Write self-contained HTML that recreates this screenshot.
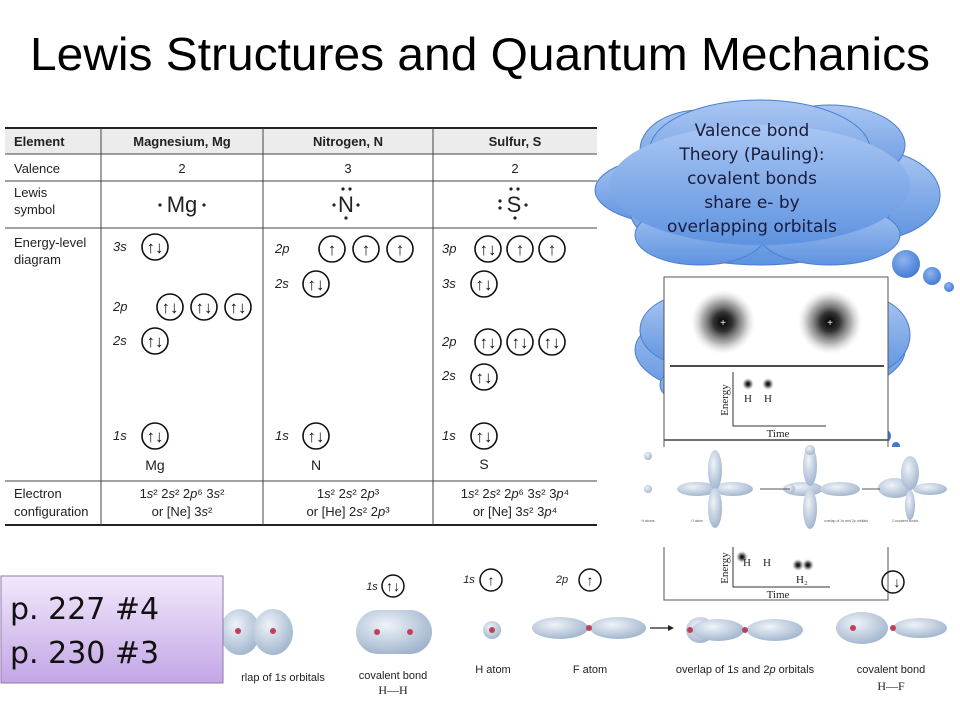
<!DOCTYPE html>
<html><head><meta charset="utf-8"><style>
html,body{margin:0;padding:0;background:#fff;}
svg{display:block;font-family:"Liberation Sans",sans-serif;}
</style></head><body>
<svg width="960" height="720" viewBox="0 0 960 720" xmlns="http://www.w3.org/2000/svg">
<defs>
<linearGradient id="cl" x1="0" y1="0" x2="0" y2="1"><stop offset="0" stop-color="#a9c6f2"/><stop offset="1" stop-color="#5f93e0"/></linearGradient>
<linearGradient id="pu" x1="0" y1="0" x2="0" y2="1"><stop offset="0" stop-color="#f1e8fb"/><stop offset="1" stop-color="#c3a6e6"/></linearGradient>
<radialGradient id="lob" cx="0.4" cy="0.35" r="0.7"><stop offset="0" stop-color="#eef3f9"/><stop offset="1" stop-color="#9fb3cc"/></radialGradient>
<radialGradient id="dot" cx="0.5" cy="0.5" r="0.5"><stop offset="0" stop-color="#000"/><stop offset="0.3" stop-color="#333"/><stop offset="0.65" stop-color="#888" stop-opacity="0.7"/><stop offset="1" stop-color="#ccc" stop-opacity="0"/></radialGradient>
<radialGradient id="bub" cx="0.4" cy="0.35" r="0.7"><stop offset="0" stop-color="#8fb4ee"/><stop offset="1" stop-color="#3f78d4"/></radialGradient>
</defs>
<text x="480" y="70" font-family="Liberation Sans" font-size="46" text-anchor="middle" textLength="900" lengthAdjust="spacingAndGlyphs">Lewis Structures and Quantum Mechanics</text>

<!-- table -->
<rect x="5" y="128" width="592" height="26" fill="#ececec"/>
<g stroke="#222" stroke-width="2"><line x1="5" y1="128" x2="597" y2="128"/><line x1="5" y1="525" x2="597" y2="525"/></g>
<g stroke="#444" stroke-width="1"><line x1="5" y1="154" x2="597" y2="154"/><line x1="5" y1="181" x2="597" y2="181"/><line x1="5" y1="228" x2="597" y2="228"/><line x1="5" y1="481" x2="597" y2="481"/>
<line x1="101" y1="128" x2="101" y2="525"/><line x1="263" y1="128" x2="263" y2="525"/><line x1="433" y1="128" x2="433" y2="525"/></g>
<g font-size="13" fill="#222">
<text x="14" y="146" font-weight="bold">Element</text>
<text x="182" y="146" font-weight="bold" text-anchor="middle">Magnesium, Mg</text>
<text x="348" y="146" font-weight="bold" text-anchor="middle">Nitrogen, N</text>
<text x="515" y="146" font-weight="bold" text-anchor="middle">Sulfur, S</text>
<text x="14" y="173">Valence</text>
<text x="182" y="173" text-anchor="middle">2</text><text x="348" y="173" text-anchor="middle">3</text><text x="515" y="173" text-anchor="middle">2</text>
<text x="14" y="197">Lewis</text><text x="14" y="214">symbol</text>
<text x="14" y="247">Energy-level</text><text x="14" y="264">diagram</text>
<text x="14" y="498">Electron</text><text x="14" y="516">configuration</text>
<text x="182" y="498" text-anchor="middle">1<tspan font-style="italic">s</tspan>² 2<tspan font-style="italic">s</tspan>² 2<tspan font-style="italic">p</tspan>⁶ 3<tspan font-style="italic">s</tspan>²</text>
<text x="182" y="516" text-anchor="middle">or [Ne] 3<tspan font-style="italic">s</tspan>²</text>
<text x="348" y="498" text-anchor="middle">1<tspan font-style="italic">s</tspan>² 2<tspan font-style="italic">s</tspan>² 2<tspan font-style="italic">p</tspan>³</text>
<text x="348" y="516" text-anchor="middle">or [He] 2<tspan font-style="italic">s</tspan>² 2<tspan font-style="italic">p</tspan>³</text>
<text x="515" y="498" text-anchor="middle">1<tspan font-style="italic">s</tspan>² 2<tspan font-style="italic">s</tspan>² 2<tspan font-style="italic">p</tspan>⁶ 3<tspan font-style="italic">s</tspan>² 3<tspan font-style="italic">p</tspan>⁴</text>
<text x="515" y="516" text-anchor="middle">or [Ne] 3<tspan font-style="italic">s</tspan>² 3<tspan font-style="italic">p</tspan>⁴</text>
</g>
<g font-size="22" fill="#222" text-anchor="middle">
<text x="182" y="212">Mg</text>
<text x="346" y="212">N</text>
<text x="514" y="212">S</text>
</g>
<g fill="#222"><circle cx="160" cy="205" r="1.6"/><circle cx="204" cy="205" r="1.6"/>
<circle cx="334" cy="205" r="1.6"/><circle cx="358" cy="205" r="1.6"/><circle cx="343" cy="189" r="1.6"/><circle cx="350" cy="189" r="1.6"/><circle cx="346" cy="218" r="1.6"/>
<circle cx="500" cy="201" r="1.6"/><circle cx="500" cy="208" r="1.6"/><circle cx="526" cy="205" r="1.6"/>
<circle cx="511" cy="189" r="1.6"/><circle cx="518" cy="189" r="1.6"/><circle cx="515" cy="218" r="1.6"/></g>
<g font-size="13" font-style="italic" fill="#222">
<text x="113" y="251">3s</text><text x="113" y="311">2p</text><text x="113" y="345">2s</text><text x="113" y="440">1s</text>
<text x="275" y="253">2p</text><text x="275" y="288">2s</text><text x="275" y="440">1s</text>
<text x="442" y="253">3p</text><text x="442" y="288">3s</text><text x="442" y="346">2p</text><text x="442" y="380">2s</text><text x="442" y="440">1s</text>
</g>
<g font-size="14" fill="#222" text-anchor="middle"><text x="155" y="470">Mg</text><text x="316" y="470">N</text><text x="484" y="469">S</text></g>
<g fill="none" stroke="#111" stroke-width="1.6">
<circle cx="155" cy="247" r="13"/><circle cx="170" cy="307" r="13"/><circle cx="204" cy="307" r="13"/><circle cx="238" cy="307" r="13"/><circle cx="155" cy="341" r="13"/><circle cx="155" cy="436" r="13"/>
<circle cx="332" cy="249" r="13"/><circle cx="366" cy="249" r="13"/><circle cx="400" cy="249" r="13"/><circle cx="316" cy="284" r="13"/><circle cx="316" cy="436" r="13"/>
<circle cx="488" cy="249" r="13"/><circle cx="520" cy="249" r="13"/><circle cx="552" cy="249" r="13"/><circle cx="484" cy="284" r="13"/><circle cx="488" cy="342" r="13"/><circle cx="520" cy="342" r="13"/><circle cx="552" cy="342" r="13"/><circle cx="484" cy="377" r="13"/><circle cx="484" cy="436" r="13"/>
</g>
<g font-size="17" fill="#111" text-anchor="middle">
<text x="155" y="253">↑↓</text><text x="170" y="313">↑↓</text><text x="204" y="313">↑↓</text><text x="238" y="313">↑↓</text><text x="155" y="347">↑↓</text><text x="155" y="442">↑↓</text>
<text x="332" y="255">↑</text><text x="366" y="255">↑</text><text x="400" y="255">↑</text><text x="316" y="290">↑↓</text><text x="316" y="442">↑↓</text>
<text x="488" y="255">↑↓</text><text x="520" y="255">↑</text><text x="552" y="255">↑</text><text x="484" y="290">↑↓</text><text x="488" y="348">↑↓</text><text x="520" y="348">↑↓</text><text x="552" y="348">↑↓</text><text x="484" y="383">↑↓</text><text x="484" y="442">↑↓</text>
</g>

<!-- second cloud -->
<g fill="url(#cl)" stroke="#4a7fd0" stroke-width="1">
<ellipse cx="770" cy="350" rx="135" ry="52"/><ellipse cx="690" cy="330" rx="50" ry="35"/><ellipse cx="860" cy="335" rx="50" ry="40"/><ellipse cx="720" cy="385" rx="60" ry="25"/>
</g>
<circle cx="884" cy="436" r="7" fill="#3f78d4"/><circle cx="896" cy="446" r="4" fill="#3f78d4"/>

<!-- main cloud -->
<g fill="url(#cl)" stroke="#4a7fd0" stroke-width="1">
<ellipse cx="680" cy="190" rx="85" ry="35"/><ellipse cx="870" cy="195" rx="70" ry="45"/><ellipse cx="700" cy="150" rx="60" ry="40"/><ellipse cx="830" cy="145" rx="75" ry="40"/>
<ellipse cx="760" cy="210" rx="130" ry="55"/><ellipse cx="760" cy="150" rx="110" ry="50"/><ellipse cx="700" cy="235" rx="65" ry="30"/><ellipse cx="830" cy="235" rx="70" ry="30"/>
</g>
<ellipse cx="760" cy="185" rx="150" ry="60" fill="url(#cl)"/>
<g fill="url(#bub)"><circle cx="906" cy="264" r="14"/><circle cx="932" cy="276" r="9"/><circle cx="949" cy="287" r="5"/></g>
<g font-family="DejaVu Sans, sans-serif" font-size="17" fill="#1b1b3a" text-anchor="middle">
<text x="752" y="136">Valence bond</text><text x="752" y="160">Theory (Pauling):</text><text x="752" y="184">covalent bonds</text><text x="752" y="208">share e- by</text><text x="752" y="232">overlapping orbitals</text>
</g>

<!-- image box -->
<rect x="664" y="277" width="224" height="323" fill="#fff" stroke="#555" stroke-width="1"/>
<circle cx="723" cy="322" r="32" fill="url(#dot)"/><circle cx="830" cy="322" r="32" fill="url(#dot)"/>
<text x="723" y="326" font-size="10" fill="#fff" text-anchor="middle">+</text><text x="830" y="326" font-size="10" fill="#fff" text-anchor="middle">+</text>
<line x1="670" y1="366" x2="884" y2="366" stroke="#111" stroke-width="1.5"/>
<g stroke="#333" fill="none"><polyline points="733,372 733,426 826,426"/></g>
<circle cx="748" cy="384" r="6" fill="url(#dot)"/><circle cx="768" cy="384" r="6" fill="url(#dot)"/>
<g font-family="Liberation Serif" font-size="11" fill="#222"><text x="744" y="402">H</text><text x="764" y="402">H</text><text x="778" y="437" text-anchor="middle">Time</text>
<text x="728" y="400" text-anchor="middle" transform="rotate(-90 728 400)">Energy</text></g>
<line x1="664" y1="440" x2="888" y2="440" stroke="#444" stroke-width="1.5"/>

<!-- orbital strip -->
<rect x="635" y="447" width="325" height="100" fill="#fff"/>
<g fill="url(#lob)">
<circle cx="648" cy="456" r="4"/><circle cx="648" cy="489" r="4"/>
<ellipse cx="697" cy="489" rx="20" ry="7"/><ellipse cx="733" cy="489" rx="20" ry="7"/><ellipse cx="715" cy="470" rx="7" ry="20"/><ellipse cx="715" cy="508" rx="7" ry="20"/>
<ellipse cx="803" cy="489" rx="20" ry="7"/><ellipse cx="840" cy="489" rx="20" ry="7"/><ellipse cx="810" cy="466" rx="7" ry="20"/><ellipse cx="810" cy="509" rx="7" ry="20"/><circle cx="810" cy="450" r="5"/><circle cx="790" cy="489" r="5"/>
<ellipse cx="895" cy="488" rx="17" ry="10"/><ellipse cx="930" cy="489" rx="17" ry="6"/><ellipse cx="910" cy="473" rx="9" ry="17"/><ellipse cx="910" cy="505" rx="5" ry="15"/>
</g>
<g stroke="#555"><line x1="760" y1="489" x2="790" y2="489"/><line x1="862" y1="489" x2="880" y2="489"/></g>
<g font-size="3.5" fill="#555" text-anchor="middle"><text x="648" y="522">H atoms</text><text x="697" y="522">O atom</text><text x="846" y="522">overlap of 1s and 2p orbitals</text><text x="905" y="522">2 covalent bonds</text></g>
<circle cx="742" cy="557" r="6" fill="url(#dot)"/><circle cx="798" cy="565" r="6" fill="url(#dot)"/><circle cx="808" cy="565" r="6" fill="url(#dot)"/>
<polyline points="733,547 733,587 830,587" stroke="#333" fill="none"/>
<g font-family="Liberation Serif" font-size="11" fill="#222"><text x="743" y="566">H</text><text x="763" y="566">H</text><text x="796" y="583">H₂</text><text x="778" y="598" text-anchor="middle">Time</text>
<text x="728" y="568" text-anchor="middle" transform="rotate(-90 728 568)">Energy</text></g>

<!-- bottom row -->
<g font-size="11" fill="#222" text-anchor="middle">
<text x="283" y="681">rlap of 1<tspan font-style="italic">s</tspan> orbitals</text>
<text x="393" y="679">covalent bond</text><text x="393" y="694" font-family="Liberation Serif" font-size="12">H—H</text>
<text x="493" y="673">H atom</text><text x="590" y="673">F atom</text>
<text x="745" y="673">overlap of 1<tspan font-style="italic">s</tspan> and 2<tspan font-style="italic">p</tspan> orbitals</text>
<text x="891" y="673">covalent bond</text><text x="891" y="690" font-family="Liberation Serif" font-size="12">H—F</text>
<text x="372" y="590" font-style="italic">1s</text><text x="469" y="583" font-style="italic">1s</text><text x="562" y="583" font-style="italic">2p</text>
</g>
<g fill="none" stroke="#111" stroke-width="1.5"><circle cx="393" cy="586" r="11"/><circle cx="491" cy="580" r="11"/><circle cx="590" cy="580" r="11"/><circle cx="893" cy="582" r="11"/></g>
<g font-size="14" text-anchor="middle" fill="#111"><text x="393" y="591">↑↓</text><text x="491" y="585">↑</text><text x="590" y="585">↑</text><text x="897" y="587">↓</text></g>
<g fill="url(#lob)">
<ellipse cx="240" cy="632" rx="20" ry="23"/><ellipse cx="273" cy="632" rx="20" ry="23"/>
<rect x="356" y="610" width="76" height="44" rx="22"/>
<circle cx="492" cy="630" r="9"/>
<ellipse cx="560" cy="628" rx="28" ry="11"/><ellipse cx="618" cy="628" rx="28" ry="11"/>
<ellipse cx="700" cy="630" rx="14" ry="13"/><ellipse cx="718" cy="630" rx="26" ry="11"/><ellipse cx="775" cy="630" rx="28" ry="11"/>
<ellipse cx="862" cy="628" rx="26" ry="16"/><ellipse cx="920" cy="628" rx="27" ry="10"/>
</g>
<g fill="#c0405a"><circle cx="238" cy="631" r="3"/><circle cx="273" cy="631" r="3"/><circle cx="377" cy="632" r="3"/><circle cx="410" cy="632" r="3"/><circle cx="492" cy="630" r="3"/><circle cx="589" cy="628" r="3"/><circle cx="690" cy="630" r="3"/><circle cx="745" cy="630" r="3"/><circle cx="853" cy="628" r="3"/><circle cx="893" cy="628" r="3"/></g>
<line x1="650" y1="628" x2="668" y2="628" stroke="#222" stroke-width="1.2"/><polygon points="668,625 674,628 668,631" fill="#222"/>

<!-- purple box -->
<rect x="1" y="576" width="222" height="107" fill="url(#pu)" stroke="#8e7aa8" stroke-width="1"/>
<g font-family="DejaVu Sans, sans-serif" font-size="30" fill="#111"><text x="10" y="619">p. 227 #4</text><text x="10" y="663">p. 230 #3</text></g>
</svg>
</body></html>
